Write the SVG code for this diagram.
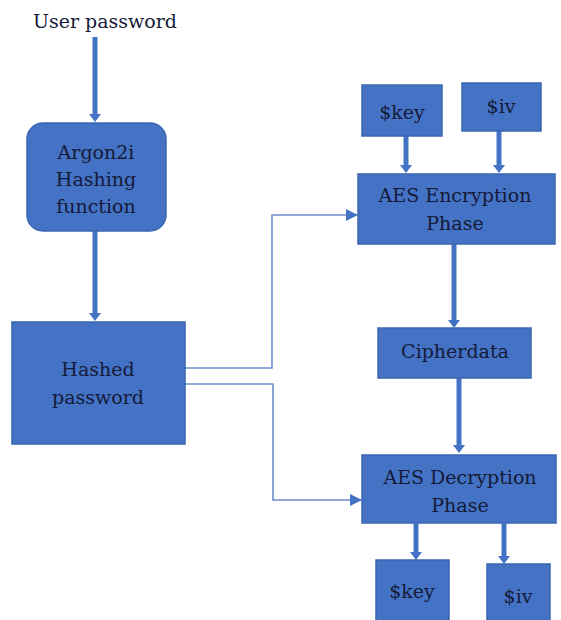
<svg xmlns="http://www.w3.org/2000/svg" width="561" height="620" viewBox="0 0 561 620">
<style>
.box{fill:#4472C4;stroke:#3A65B0;stroke-width:1.5}
.t{font-family:"DejaVu Serif","Liberation Serif",serif;font-size:19px;fill:#141a38;text-anchor:middle}
.thick{stroke:#4472C4;stroke-width:5;fill:none}
.head{fill:#4472C4}
.thin{stroke:#6F8CCB;stroke-width:1.6;fill:none}
</style>
<defs>
<marker id="ahs" markerWidth="12" markerHeight="12" refX="11" refY="6" orient="auto" markerUnits="userSpaceOnUse" viewBox="0 0 12 12">
<path d="M0,0 L12,6 L0,12 z" fill="#4472C4"/>
</marker>
</defs>
<g id="connectors">
<path class="thick" d="M95,37 V116"/>
<path class="head" d="M89,114 L95,122 L101,114 z"/>
<path class="thick" d="M95,231 V314"/>
<path class="head" d="M89,313 L95,321 L101,313 z"/>
<path class="thick" d="M406,136 V166"/>
<path class="head" d="M400,165 L406,173 L412,165 z"/>
<path class="thick" d="M499,131 V166"/>
<path class="head" d="M493,165 L499,173 L505,165 z"/>
<path class="thick" d="M454,244 V321"/>
<path class="head" d="M448,320 L454,328 L460,320 z"/>
<path class="thick" d="M459,378 V446"/>
<path class="head" d="M453,445 L459,453 L465,445 z"/>
<path class="thick" d="M416,523 V553"/>
<path class="head" d="M410,552 L416,560 L422,552 z"/>
<path class="thick" d="M504,523 V557"/>
<path class="head" d="M498,556 L504,564 L510,556 z"/>
<path class="thin" d="M185,368 H272 V215 H357" marker-end="url(#ahs)"/>
<path class="thin" d="M185,384 H273 V500 H361" marker-end="url(#ahs)"/>
</g>
<g id="user-password">
<text class="t" x="105" y="28" font-size="20">User password</text>
</g>
<g id="argon2i">
<rect class="box" x="27" y="123" width="139" height="108" rx="16"/>
<text class="t" x="96" y="159">Argon2i</text>
<text class="t" x="96" y="186">Hashing</text>
<text class="t" x="96" y="213">function</text>
</g>
<g id="hashed-password">
<rect class="box" x="12" y="322" width="173" height="122"/>
<text class="t" x="98" y="376">Hashed</text>
<text class="t" x="98" y="404">password</text>
</g>
<g id="key-top">
<rect class="box" x="362" y="85" width="80" height="51"/>
<text class="t" x="402" y="119">$key</text>
</g>
<g id="iv-top">
<rect class="box" x="462" y="83" width="79" height="48"/>
<text class="t" x="501" y="113">$iv</text>
</g>
<g id="aes-encryption">
<rect class="box" x="358" y="174" width="197" height="70"/>
<text class="t" x="455" y="202">AES Encryption</text>
<text class="t" x="455" y="230">Phase</text>
</g>
<g id="cipherdata">
<rect class="box" x="378" y="328" width="153" height="50"/>
<text class="t" x="455" y="358">Cipherdata</text>
</g>
<g id="aes-decryption">
<rect class="box" x="362" y="455" width="194" height="68"/>
<text class="t" x="460" y="484">AES Decryption</text>
<text class="t" x="460" y="512">Phase</text>
</g>
<g id="key-bottom">
<rect class="box" x="376" y="560" width="73" height="62"/>
<text class="t" x="412" y="598">$key</text>
</g>
<g id="iv-bottom">
<rect class="box" x="487" y="564" width="63" height="58"/>
<text class="t" x="518" y="603">$iv</text>
</g>
</svg>
